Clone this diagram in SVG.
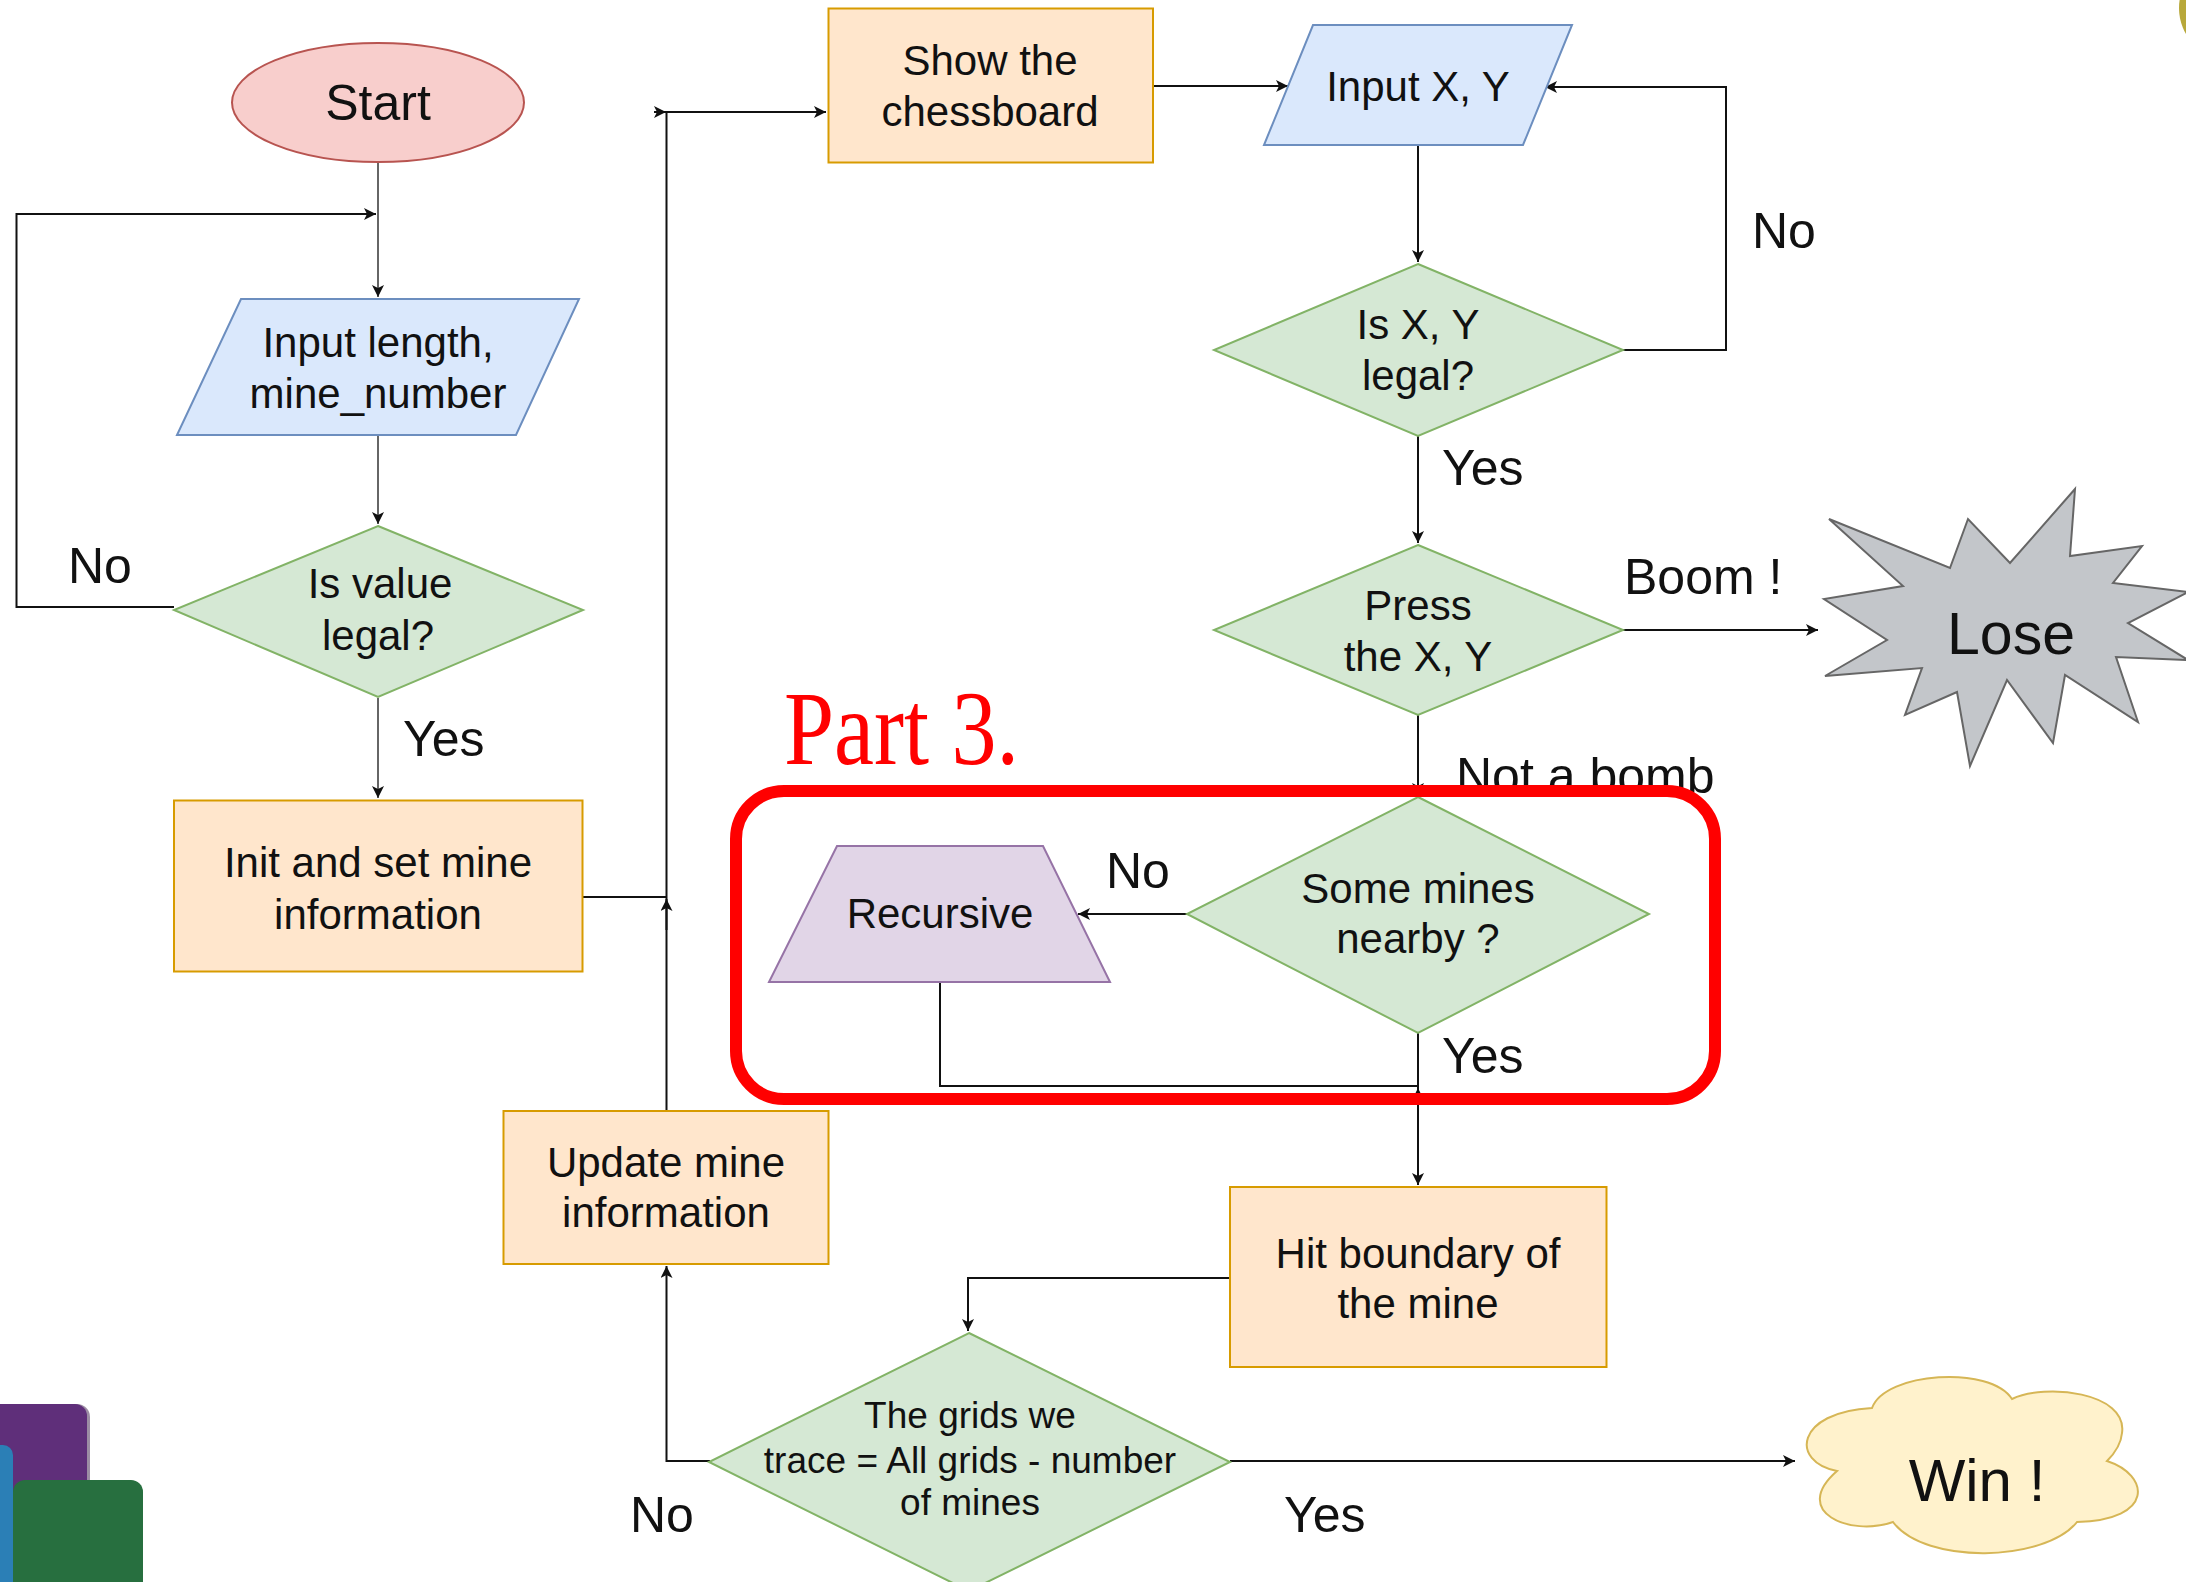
<svg xmlns="http://www.w3.org/2000/svg" width="2186" height="1582" viewBox="0 0 2186 1582">
<style>
  .t { font-family: "Liberation Sans", Arial, sans-serif; fill: #111; }
  .n { font-size: 42px; text-anchor: middle; }
  .lbl { font-size: 50px; }
  .c { fill: none; stroke: #111; stroke-width: 2; }
  .g { stroke: #666; }
  .proc { fill: #ffe6cc; stroke: #d79b00; stroke-width: 2; }
  .io { fill: #dae8fc; stroke: #6c8ebf; stroke-width: 2; }
  .dec { fill: #d5e8d4; stroke: #82b366; stroke-width: 2; }
</style>
<defs>
  <marker id="arr" markerUnits="userSpaceOnUse" markerWidth="14" markerHeight="14" refX="12" refY="6" orient="auto">
    <path d="M0,0 L12,6 L0,12 L3,6 Z" fill="#111"/>
  </marker>
</defs>
<rect width="2186" height="1582" fill="#ffffff"/>

<!-- decorations -->
<g id="deco">
  <circle cx="2231" cy="8" r="52" fill="#b8a83a"/>
  <rect x="-20" y="1404" width="110" height="200" rx="13" fill="#3a1c4a" opacity="0.5"/>
  <rect x="-20" y="1404" width="107" height="200" rx="12" fill="#5f2f7a"/>
  <rect x="13" y="1480" width="130" height="130" rx="12" fill="#276f3f"/>
  <rect x="-20" y="1445" width="33" height="160" rx="10" fill="#2b7fb6"/>
</g>

<!-- connectors -->
<g id="connectors">
  <path class="c g" d="M378,162 V297" marker-end="url(#arr)"/>
  <path class="c g" d="M378,435 V524" marker-end="url(#arr)"/>
  <path class="c" d="M174,607 H16.5 V214 H376" marker-end="url(#arr)"/>
  <path class="c g" d="M378,698 V798" marker-end="url(#arr)"/>
  <path class="c" d="M583,897 H666.5"/>
  <path class="c" d="M666.5,1110 V112 H826" marker-end="url(#arr)"/>
  <path class="c" d="M666.5,930 V899" marker-end="url(#arr)"/>
  <path class="c" d="M654,112 H666" marker-end="url(#arr)"/>
  <path class="c" d="M1153,86 H1288" marker-end="url(#arr)"/>
  <path class="c" d="M1418,145 V262" marker-end="url(#arr)"/>
  <path class="c" d="M1623,350 H1726 V87 H1545" marker-end="url(#arr)"/>
  <path class="c" d="M1418,436 V543" marker-end="url(#arr)"/>
  <path class="c" d="M1623,630 H1818" marker-end="url(#arr)"/>
  <path class="c" d="M1418,715 V795" marker-end="url(#arr)"/>
  <path class="c" d="M1187,914 H1078" marker-end="url(#arr)"/>
  <path class="c" d="M940,982 V1086 H1418"/>
  <path class="c" d="M1418,1110 V1088" marker-end="url(#arr)"/>
  <path class="c" d="M1418,1033 V1185" marker-end="url(#arr)"/>
  <path class="c" d="M1230,1278 H968 V1331" marker-end="url(#arr)"/>
  <path class="c" d="M710,1461 H666.5 V1266" marker-end="url(#arr)"/>
  <path class="c" d="M1230,1461 H1795" marker-end="url(#arr)"/>
</g>

<g id="start">
  <ellipse cx="378" cy="102.5" rx="146" ry="59.5" fill="#f8cecc" stroke="#b85450" stroke-width="2"/>
  <text class="t" x="378" y="120" font-size="50" text-anchor="middle">Start</text>
</g>
<g id="input-length">
  <polygon class="io" points="241,299 579,299 516,435 177,435"/>
  <text class="t n" x="378" y="357">Input length,</text>
  <text class="t n" x="378" y="408">mine_number</text>
</g>
<g id="is-value-legal">
  <polygon class="dec" points="378,526 583,610 378,697 174,610"/>
  <text class="t n" x="380" y="598">Is value</text>
  <text class="t n" x="378" y="650">legal?</text>
</g>
<g id="init">
  <rect class="proc" x="174" y="800.5" width="408.5" height="171"/>
  <text class="t n" x="378" y="877">Init and set mine</text>
  <text class="t n" x="378" y="929">information</text>
</g>
<g id="show-board">
  <rect class="proc" x="828.5" y="8.5" width="324.5" height="154"/>
  <text class="t n" x="990" y="75">Show the</text>
  <text class="t n" x="990" y="126">chessboard</text>
</g>
<g id="input-xy">
  <polygon class="io" points="1313,25 1572,25 1523,145 1264,145"/>
  <text class="t n" x="1418" y="101">Input X, Y</text>
</g>
<g id="is-xy-legal">
  <polygon class="dec" points="1418,264 1623,350 1418,436 1214,350"/>
  <text class="t n" x="1418" y="339">Is X, Y</text>
  <text class="t n" x="1418" y="390">legal?</text>
</g>
<g id="press">
  <polygon class="dec" points="1418,545 1623,630 1418,715 1214,630"/>
  <text class="t n" x="1418" y="620">Press</text>
  <text class="t n" x="1418" y="671">the X, Y</text>
</g>
<g id="lose">
  <polygon points="1829,519 1950,568 1968,519 2010,563 2075,489 2070,556 2142,546 2113,583 2188,592 2128,623 2188,660 2116,657 2138,722 2065,675 2053,743 2007,680 1970,766 1957,692 1905,715 1922,668 1825,676 1887,640 1824,599 1903,586" fill="#c3c6ca" stroke="#666" stroke-width="2"/>
  <text class="t" x="2011" y="654" font-size="59" text-anchor="middle">Lose</text>
</g>
<g id="some-mines">
  <polygon class="dec" points="1418,797 1649,914 1418,1033 1187,914"/>
  <text class="t n" x="1418" y="903">Some mines</text>
  <text class="t n" x="1418" y="953">nearby ?</text>
</g>
<g id="recursive">
  <polygon points="837,846 1043,846 1110,982 769,982" fill="#e1d5e7" stroke="#9673a6" stroke-width="2"/>
  <text class="t n" x="940" y="928">Recursive</text>
</g>
<g id="update">
  <rect class="proc" x="503.5" y="1111" width="325" height="153"/>
  <text class="t n" x="666" y="1177">Update mine</text>
  <text class="t n" x="666" y="1227">information</text>
</g>
<g id="hit-boundary">
  <rect class="proc" x="1230" y="1187" width="376.5" height="180"/>
  <text class="t n" x="1418" y="1268">Hit boundary of</text>
  <text class="t n" x="1418" y="1318">the mine</text>
</g>
<g id="grids">
  <polygon class="dec" points="969,1333 1230,1462 969,1591 709,1462"/>
  <text class="t" x="970" y="1428" font-size="37" text-anchor="middle">The grids we</text>
  <text class="t" x="970" y="1473" font-size="37" text-anchor="middle">trace = All grids - number</text>
  <text class="t" x="970" y="1515" font-size="37" text-anchor="middle">of mines</text>
</g>
<g id="win">
  <path d="M1872,1408 C1885,1372 1990,1365 2012,1399 C2045,1383 2128,1392 2122,1433 C2121,1445 2114,1454 2107,1461 C2150,1475 2155,1520 2077,1522 C2045,1562 1925,1565 1893,1522 C1850,1537 1790,1512 1837,1471 C1790,1462 1795,1412 1872,1408 Z" fill="#fff2cc" stroke="#d6b656" stroke-width="2"/>
  <text class="t" x="1977" y="1501" font-size="60" text-anchor="middle">Win !</text>
</g>

<g id="labels">
  <text class="t lbl" x="68" y="583">No</text>
  <text class="t lbl" x="403" y="756">Yes</text>
  <text class="t lbl" x="1752" y="248">No</text>
  <text class="t lbl" x="1442" y="485">Yes</text>
  <text class="t lbl" x="1624" y="594">Boom !</text>
  <text class="t lbl" x="1456" y="793">Not a bomb</text>
  <text class="t lbl" x="1106" y="888">No</text>
  <text class="t lbl" x="1442" y="1073">Yes</text>
  <text class="t lbl" x="630" y="1532">No</text>
  <text class="t lbl" x="1284" y="1532">Yes</text>
</g>

<g id="part3">
  <rect x="736" y="791" width="979" height="308" rx="48" fill="none" stroke="#ff0000" stroke-width="12"/>
  <text x="784" y="764" font-family="'Liberation Serif', 'Times New Roman', serif" font-size="106" fill="#ff0000" textLength="235" lengthAdjust="spacingAndGlyphs">Part 3.</text>
</g>
</svg>
